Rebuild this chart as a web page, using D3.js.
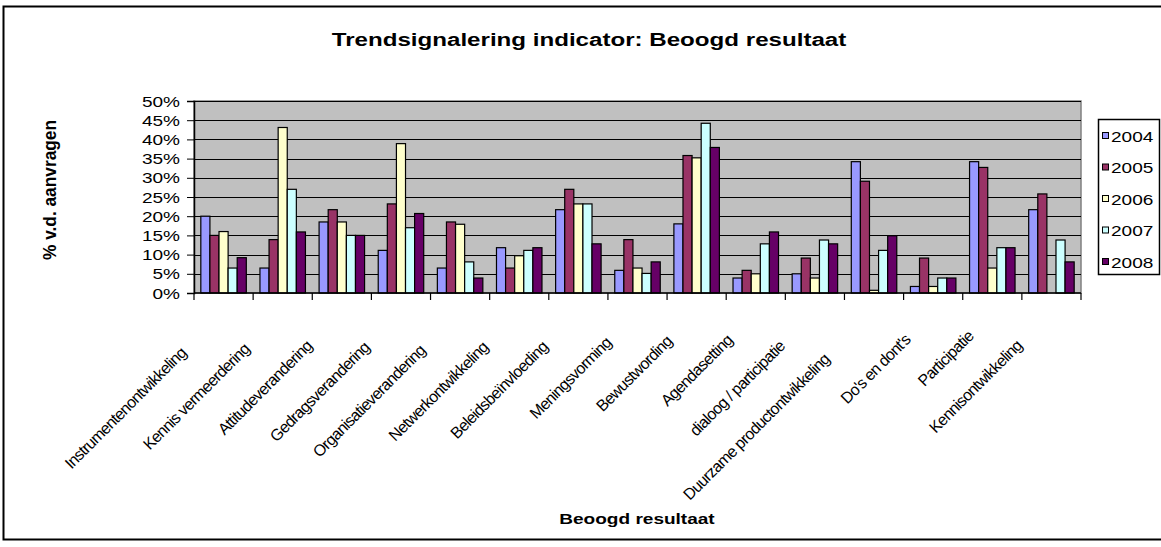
<!DOCTYPE html>
<html>
<head>
<meta charset="utf-8">
<script src="https://cdn.jsdelivr.net/npm/d3@7"></script>
<style>
	body { margin: 0; background: #fff; }
	svg { display: block; font-family: "Liberation Sans", Arial, sans-serif; }
</style>
</head>
<body>
<svg id="chart" width="1161" height="547"></svg>
<script>
const categories = ["Instrumentenontwikkeling", "Kennis vermeerdering", "Attitudeverandering", "Gedragsverandering",
	"Organisatieverandering", "Netwerkontwikkeling", "Beleidsbeïnvloeding", "Meningsvorming", "Bewustwording",
	"Agendasetting", "dialoog / participatie", "Duurzame productontwikkeling", "Do's en dont's", "Participatie",
	"Kennisontwikkeling"];
const years = ["2004", "2005", "2006", "2007", "2008"];
const v2004 = [20, 6.5, 18.5, 11.1, 6.5, 11.8, 21.7, 5.9, 18, 3.9, 5, 34.2, 1.7, 34.2, 21.7];
const v2005 = [15, 13.9, 21.7, 23.2, 18.5, 6.5, 27, 13.9, 35.8, 5.9, 9.1, 29.1, 9.1, 32.7, 25.8];
const v2006 = [16, 43.1, 18.5, 38.9, 17.9, 9.7, 23.2, 6.5, 35.2, 5, 3.9, 0.7, 1.7, 6.5, 0];
const v2007 = [6.5, 27, 15, 17, 8.1, 11.1, 23.2, 5.1, 44.2, 12.8, 13.8, 11.1, 3.9, 11.8, 13.8];
const v2008 = [9.2, 15.9, 15, 20.7, 3.9, 11.8, 12.8, 8.1, 37.9, 15.9, 12.8, 14.9, 3.9, 11.8, 8.1];
const yTicks = [0, 5, 10, 15, 20, 25, 30, 35, 40, 45, 50];

const holder = {
	"colors": ["#9999ff", "#993366", "#ffffcc", "#ccffff", "#660066"],
	"plot": {"left": 194, "right": 1081, "top": 101, "bottom": 293},
	"stretch": 1.27, //the source picture is wider than tall, text looks stretched
	"svg": null
};

function start() {
	holder.svg = d3.select("#chart");
	const series = [v2004, v2005, v2006, v2007, v2008];
	const p = holder.plot;
	const x0 = d3.scaleBand().domain(categories).range([p.left, p.right]);
	const step = x0.step();
	const w = step / 6.5; // gap width 150%
	const x1 = d3.scaleBand().domain(years).range([w * 0.75, step - w * 0.75]);
	const y = d3.scaleLinear().domain([0, 50]).range([p.bottom, p.top]);

	drawFrame();
	drawPlot(x0, x1, y, series);
	drawAxes(x0, y);
	drawLegend();
	return;
}

function stretchedText(g, x, y, txt, size, bold, anchor) {
	return g.append("text")
		.attr("transform", "translate(" + x + "," + y + ") scale(" + holder.stretch + ",1)")
		.attr("text-anchor", anchor)
		.attr("font-size", size)
		.attr("font-weight", bold ? "bold" : "normal")
		.text(txt);
}

function drawFrame() {
	holder.svg.append("rect")
		.attr("x", 3.5).attr("y", 6.5).attr("width", 1200).attr("height", 533)
		.attr("fill", "#fff").attr("stroke", "#000").attr("stroke-width", 2);
	stretchedText(holder.svg, 589, 46, "Trendsignalering indicator: Beoogd resultaat", 19, true, "middle");
	stretchedText(holder.svg, 637, 524, "Beoogd resultaat", 15, true, "middle");
	holder.svg.append("text")
		.attr("transform", "translate(56,190) rotate(-90) scale(1," + holder.stretch + ")")
		.attr("text-anchor", "middle")
		.attr("font-size", 14)
		.attr("font-weight", "bold")
		.attr("textLength", 140)
		.attr("lengthAdjust", "spacingAndGlyphs")
		.text("% v.d. aanvragen");
}

function drawPlot(x0, x1, y, series) {
	const p = holder.plot;
	const g = holder.svg.append("g");
	g.append("rect")
		.attr("x", p.left).attr("y", p.top)
		.attr("width", p.right - p.left).attr("height", p.bottom - p.top)
		.attr("fill", "#c0c0c0").attr("stroke", "#808080").attr("stroke-width", 1.5);
	g.selectAll("line.grid").data(yTicks.slice(1)).enter().append("line")
		.attr("class", "grid")
		.attr("x1", p.left).attr("x2", p.right)
		.attr("y1", (d) => Math.round(y(d)) + 0.5).attr("y2", (d) => Math.round(y(d)) + 0.5)
		.attr("stroke", "#000").attr("stroke-width", 1);

	series.forEach((vals, s) => {
		g.append("g").selectAll("rect").data(vals).enter().append("rect")
			.attr("x", (d, i) => x0(categories[i]) + x1(years[s]))
			.attr("y", (d) => y(d))
			.attr("width", x1.bandwidth())
			.attr("height", (d) => p.bottom - y(d))
			.attr("fill", holder.colors[s])
			.attr("stroke", "#000").attr("stroke-width", 1.2);
	});
}

function drawAxes(x0, y) {
	const p = holder.plot;
	const yAxis = holder.svg.append("g")
		.attr("transform", "translate(" + p.left + ",0)")
		.call(d3.axisLeft(y).tickValues(yTicks).tickSize(7).tickPadding(7).tickFormat((d) => d + "%"));
	yAxis.select(".domain").attr("stroke", "#000").attr("stroke-width", 1.5);
	yAxis.selectAll(".tick text").remove();
	yTicks.forEach((t) => {
		stretchedText(yAxis, -14, y(t) + 5.5, t + "%", 15, false, "end").attr("fill", "#000");
	});

	// category boundaries get the ticks, not the centres
	const bounds = categories.map((c) => x0(c)).concat([p.right]);
	const xg = holder.svg.append("g");
	xg.append("line")
		.attr("x1", p.left).attr("x2", p.right).attr("y1", p.bottom).attr("y2", p.bottom)
		.attr("stroke", "#000").attr("stroke-width", 1.5);
	xg.selectAll("line.tick").data(bounds).enter().append("line")
		.attr("x1", (d) => d).attr("x2", (d) => d)
		.attr("y1", p.bottom).attr("y2", p.bottom + 7)
		.attr("stroke", "#000").attr("stroke-width", 1.2);

	categories.forEach((c) => {
		const t = xg.append("text")
			.attr("text-anchor", "end")
			.attr("font-size", 16)
			.attr("letter-spacing", -0.7)
			.attr("dy", "0.35em")
			.text(c);
		const len = t.node().getComputedTextLength();
		const cx = x0(c) + x0.bandwidth() / 2 - 26 - 0.2 * (len - 92);
		const cy = p.bottom + 44 + 0.18 * (len - 92);
		t.attr("transform", "translate(" + cx + "," + cy + ") rotate(-45)");
	});
}

function drawLegend() {
	const g = holder.svg.append("g");
	g.append("rect")
		.attr("x", 1098.5).attr("y", 119.5).attr("width", 61).attr("height", 155)
		.attr("fill", "#fff").attr("stroke", "#000").attr("stroke-width", 1.5);
	years.forEach((yr, i) => {
		const cy = 136 + i * 31.5;
		g.append("rect")
			.attr("x", 1102.5).attr("y", cy - 3.5).attr("width", 6).attr("height", 6)
			.attr("fill", holder.colors[i]).attr("stroke", "#000").attr("stroke-width", 1);
		stretchedText(g, 1111, cy + 5.5, yr, 15, false, "start");
	});
}

start();
</script>
</body>
</html>
